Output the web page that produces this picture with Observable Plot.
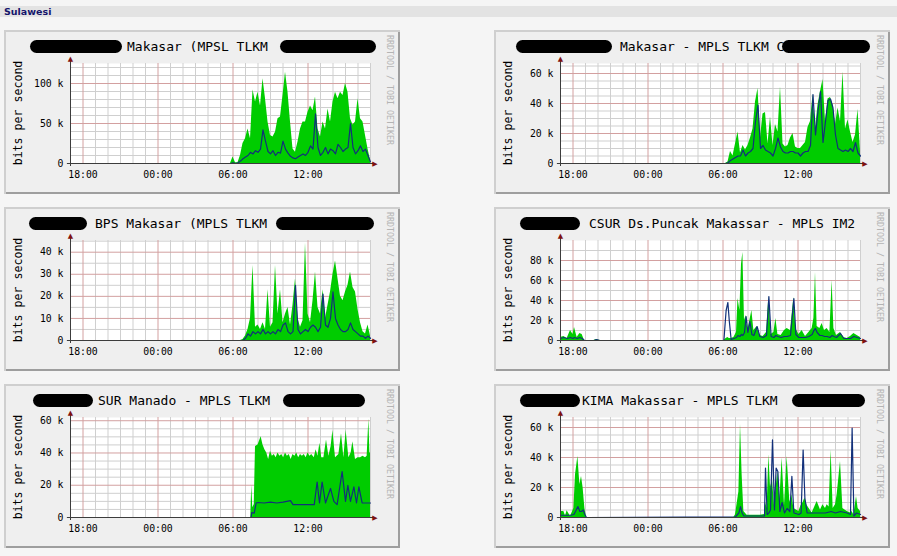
<!DOCTYPE html>
<html><head><meta charset="utf-8">
<script src="https://cdn.jsdelivr.net/npm/d3@7"></script>
<script src="https://cdn.jsdelivr.net/npm/@observablehq/plot@0.6"></script>
<style>
html,body{margin:0;padding:0;background:#f5f5f5;}
body{width:897px;height:556px;position:relative;overflow:hidden;font-family:'DejaVu Sans',sans-serif;}
.bar{position:absolute;left:0;top:6px;width:897px;height:11px;background:#e3e3e3;}
.bar span{position:absolute;left:4px;top:0;font:bold 9.5px/11px 'DejaVu Sans',sans-serif;color:#15156b;}
.panel{position:absolute;width:396px;height:164px;background:#efefef;box-shadow:inset 2px 2px 0 #cfcfcf, inset -2px -2px 0 #9e9e9e;}
.panel svg{position:absolute;left:0;top:0;}
.title{position:absolute;top:9px;font:13px/15px 'DejaVu Sans Mono',monospace;white-space:pre;color:#000;}
.pill{position:absolute;top:10px;height:13px;border-radius:7px;background:#000;}
.ylab{position:absolute;left:14px;top:83px;transform:translate(-50%,-50%) rotate(-90deg);font:11.6px 'DejaVu Sans Mono',monospace;white-space:nowrap;color:#000;}
.wm{position:absolute;left:381px;top:5px;writing-mode:vertical-rl;font:8.3px 'DejaVu Sans Mono',monospace;color:#b4b4b4;white-space:nowrap;}
</style></head><body>
<div class="bar"><span>Sulawesi</span></div>
<script>
// ---- time axis (hours since 17:00 of the previous day) ----
const xTickHours = [1, 7, 13, 19];
const xTickLabels = ["18:00", "00:00", "06:00", "12:00"];

// ---- shared sampling hours for the first three graphs ----
const sharedHours = [0,12.8,13,13.2,13.4,13.6,13.8,14,14.2,14.4,14.6,14.8,15,15.2,15.4,15.6,15.8,16,16.2,16.4,16.6,16.8,17,17.2,17.4,17.6,17.8,18,18.2,18.4,18.6,18.8,19,19.2,19.4,19.6,19.8,20,20.2,20.4,20.6,20.8,21,21.2,21.4,21.6,21.8,22,22.2,22.4,22.6,22.8,23,23.2,23.4,23.6,23.8,24];

// Graph 1: Makasar (MPSL TLKM   (k bits/s)
const makasarIn  = [0,0,8,1,1,10,25,31,43,31,92,77,89,72,106,81,52,35,33,39,56,58,85,114,89,52,18,14,27,43,52,52,64,72,66,83,43,33,52,43,68,52,77,89,81,89,85,100,89,56,48,52,81,56,52,35,18,4];
const makasarOut = [0,0,1,0,1,3,6,8,10,14,12,16,14,18,42,28,15,12,16,10,14,13,28,18,13,9,7,6,8,10,12,10,14,22,18,62,20,10,14,20,12,18,16,12,24,20,15,18,20,50,20,12,16,22,15,18,10,2];

// Graph 2: Makasar - MPLS TLKM
const makasar2In  = [0,0,0,0,1,8,5,13,21,7,12,9,12,17,23,41,50,17,33,34,13,31,12,26,21,51,13,11,12,17,20,11,10,10,12,14,24,28,46,23,39,48,56,28,43,44,39,26,37,28,61,23,29,21,14,19,36,8];
const makasar2Out = [0,0,0,0,0.5,2,3,4,5,5,9,5,7,8,10,28,39,10,12,9,8,7,5,10,17,11,8,7,7,8,8,7,7,5,7,8,8,12,46,19,35,48,14,28,42,43,37,19,10,9,8,9,8,10,8,14,7,5];

// Graph 3: BPS Makasar (MPLS TLKM
const bpsIn  = [0,0,0,0,0,0,0.5,2,5,10,34,6,7,5,8,5,23,6,8,34,12,23,8,12,15,7,16,28,10,6,9,44,12,8,18,31,15,12,23,10,16,22,30,36,28,20,18,22,25,31,24,22,14,8,4,3,7,2];
const bpsOut = [0,0,0,0,0,0,0,1,3,2,4,3,4,3,5,3,4,3,4,3,5,4,7,8,4,3,4,25,5,3,4,5,4,6,7,6,4,6,21,7,6,10,22,10,7,5,4,4,5,8,5,4,3,2,2,1,2,1];

// Graph 4: CSUR Ds.Puncak Makassar - MPLS IM2
const csurHours = [0,0.27,0.53,0.8,1.0,1.12,1.33,1.55,1.73,1.92,2.67,2.88,3.15,13.07,13.25,13.39,13.5,13.65,13.87,14.08,14.2,14.35,14.48,14.59,14.72,14.85,14.99,15.15,15.31,15.47,15.73,15.95,16.21,16.48,16.67,16.85,17.07,17.23,17.39,17.65,17.92,18.13,18.4,18.67,18.83,19.07,19.33,19.6,19.87,20.13,20.27,20.4,20.53,20.75,20.93,21.12,21.33,21.55,21.73,21.87,22.08,22.4,22.67,22.93,23.2,23.47,23.73,24];
const csurIn  = [3,4,2,10,6,13,3,7,6,0,0,1,0,0,2,3,2,2,3,8,42,30,76,88,20,25,10,20,30,10,14,5,4,8,44,6,8,22,6,5,10,12,10,43,12,6,10,4,8,12,22,68,14,12,17,10,12,8,60,12,5,8,3,2,4,7,5,3];
const csurOut = [2,3,2,3,2,3,2,3,2,0,0,1,0,0,30,38,20,1,2,3,5,4,6,5,8,24,8,19,6,5,14,4,3,5,44,4,3,5,4,3,4,4,5,42,6,3,3,3,4,6,10,12,8,5,5,4,4,3,5,4,3,7,2,2,2,4,3,2];

// Graph 5: SUR Manado - MPLS TLKM   ([hour, k bits/s])
const manadoIn = [[0,0],[14.42,0],[14.5,20],[14.58,6],[14.7,8],[14.8,44],[15.0,45],[15.1,47],[15.25,50],[15.4,45],[15.55,42],[15.7,40],[15.85,36],[16.0,41],[16.15,38],[16.3,39],[16.45,37],[16.6,40],[16.75,38],[16.9,39],[17.05,37],[17.2,40],[17.35,38],[17.5,39],[17.65,36],[17.8,39],[17.95,38],[18.1,40],[18.25,37],[18.4,39],[18.55,38],[18.7,39],[18.85,37],[19.0,40],[19.15,38],[19.3,39],[19.5,37],[19.65,42],[19.8,38],[19.95,46],[20.1,37],[20.27,37],[20.48,48],[20.67,38],[20.85,44],[20.99,54],[21.2,37],[21.47,39],[21.68,52],[21.87,37],[22.05,54],[22.27,37],[22.45,40],[22.59,47],[22.8,36],[23.0,37],[23.2,37],[23.4,38],[23.6,37],[23.73,38],[23.87,61],[23.95,40],[24,40]];
const manadoOut = [[0,0],[14.45,0],[14.5,3],[14.7,2.7],[14.85,9],[15.0,9.3],[15.5,9],[16.0,9.5],[16.5,9],[17.0,9.5],[17.6,10.5],[17.8,8],[18.5,8],[19.3,8],[19.5,8],[19.73,22],[19.92,9],[20.13,22],[20.4,9],[20.8,18],[21.07,10],[21.33,8],[21.73,28.5],[22.0,10],[22.19,20],[22.4,10],[22.67,19],[22.88,9],[23.07,19],[23.33,9],[23.87,9],[24,9]];

// Graph 6: KIMA Makassar - MPLS TLKM
const kimaIn = [[0,4],[0.27,4],[0.4,1],[0.53,4.5],[0.8,0.7],[1.07,6],[1.2,28.5],[1.39,40.7],[1.55,22],[1.68,27.4],[1.81,19.6],[1.95,6],[2.08,0],[13.87,0],[14.0,1.8],[14.27,17],[14.4,62],[14.53,28.5],[14.67,4],[14.93,1.5],[16.0,1.5],[16.32,2],[16.4,10],[16.53,6],[16.67,41.8],[16.8,20],[16.96,25],[17.12,8],[17.25,20],[17.39,30.7],[17.55,12],[17.73,39.6],[17.92,8],[18.13,40.7],[18.35,10],[18.51,15],[18.67,6],[19.07,4],[19.25,8],[19.41,10],[19.55,13],[19.73,8],[20.13,3],[20.53,10.7],[20.8,5],[20.99,8.5],[21.2,6],[21.33,8.5],[21.49,7],[21.65,45],[21.81,6],[22.0,8.5],[22.13,15],[22.4,37.3],[22.59,6],[22.93,4],[23.2,3],[23.33,4],[23.47,1.5],[23.68,14],[23.81,6],[24,4]];
const kimaOut = [[0,1.5],[0.8,1.5],[1.07,2],[1.2,4],[1.39,7.3],[1.55,4],[1.68,4],[1.81,5],[1.95,2],[2.08,0],[14.0,0.5],[14.27,3],[14.4,7.3],[14.53,3],[14.67,1],[16.32,1],[16.4,33],[16.53,2],[16.67,3],[16.8,5],[16.96,51.8],[17.12,5],[17.25,33],[17.39,30.7],[17.55,4],[17.73,10],[17.92,3],[18.13,6],[18.35,4],[18.51,27.4],[18.67,3],[19.07,2],[19.25,3],[19.41,45],[19.55,13],[19.73,3],[20.13,3],[20.53,3],[21.2,3],[21.65,4],[22.0,3],[22.4,4],[22.93,3],[23.2,2],[23.33,59.6],[23.47,1],[23.68,3],[24,2]];

// ---- builders ----
const zip = (hours, vals) => hours.map((h, i) => ({h, v: vals[i]}));
const fromPairs = pairs => pairs.map(([h, v]) => ({h, v}));

const panels = [
  {left: 4, top: 30, title: "Makasar (MPSL TLKM", titleLeft: 123, pills: [[26, 92], [276, 96]],
   yMax: 125, yTicks: [0, 50, 100], minor: 10, inbound: zip(sharedHours, makasarIn), outbound: zip(sharedHours, makasarOut)},
  {left: 494, top: 30, title: "Makasar - MPLS TLKM C", titleLeft: 126, pills: [[22, 96], [288, 88]],
   yMax: 66.67, yTicks: [0, 20, 40, 60], minor: 5, inbound: zip(sharedHours, makasar2In), outbound: zip(sharedHours, makasar2Out)},
  {left: 4, top: 207, title: "BPS Makasar (MPLS TLKM", titleLeft: 91, pills: [[25, 58], [272, 98]],
   yMax: 45.3, yTicks: [0, 10, 20, 30, 40], minor: 5, inbound: zip(sharedHours, bpsIn), outbound: zip(sharedHours, bpsOut)},
  {left: 494, top: 207, title: "CSUR Ds.Puncak Makassar - MPLS IM2", titleLeft: 95, pills: [[26, 60]],
   yMax: 100, yTicks: [0, 20, 40, 60, 80], minor: 10, inbound: zip(csurHours, csurIn), outbound: zip(csurHours, csurOut)},
  {left: 4, top: 384, title: "SUR Manado - MPLS TLKM", titleLeft: 94, pills: [[29, 60], [279, 82]],
   yMax: 62, yTicks: [0, 20, 40, 60], minor: 5, inbound: fromPairs(manadoIn), outbound: fromPairs(manadoOut)},
  {left: 494, top: 384, title: "KIMA Makassar - MPLS TLKM", titleLeft: 88, pills: [[26, 60], [298, 73]],
   yMax: 66.67, yTicks: [0, 20, 40, 60], minor: 5, inbound: fromPairs(kimaIn), outbound: fromPairs(kimaOut)}
];

const minorX = d3.range(0, 25).filter(h => !xTickHours.includes(h));
const axisColor = "#3c3c3c", arrowColor = "#7f1010";

for (const p of panels) {
  const div = document.createElement("div");
  div.className = "panel";
  div.style.left = p.left + "px";
  div.style.top = p.top + "px";
  document.body.appendChild(div);

  const minorY = d3.range(p.minor, p.yMax, p.minor).filter(v => !p.yTicks.includes(v));
  const chart = Plot.plot({
    width: 396, height: 164,
    marginLeft: 66, marginRight: 30, marginTop: 33, marginBottom: 31,
    x: {domain: [0, 24], axis: null, label: null},
    y: {domain: [0, p.yMax], axis: null, label: null},
    style: {background: "transparent", fontFamily: "'DejaVu Sans Mono', monospace", fontSize: "9.8px", color: "#000", overflow: "visible"},
    marks: [
      Plot.frame({fill: "#ffffff", stroke: "none"}),
      Plot.ruleX(minorX, {stroke: "#cfcfcf"}),
      Plot.ruleY(minorY, {stroke: "#cfcfcf"}),
      Plot.ruleX(xTickHours, {stroke: "#d3a0a0"}),
      Plot.ruleY(p.yTicks.filter(v => v > 0), {stroke: "#d3a0a0"}),
      Plot.areaY(p.inbound, {x: "h", y: "v", fill: "#00CC00"}),
      Plot.lineY(p.outbound, {x: "h", y: "v", stroke: "#12307a", strokeWidth: 1.2}),
      Plot.ruleY([0], {x1: -0.25, x2: 24.3, stroke: axisColor}),
      Plot.ruleX([0], {y1: -p.yMax * 0.03, y2: p.yMax * 1.03, stroke: axisColor}),
      Plot.text(["▶"], {x: 24.36, y: 0, text: d => d, fill: arrowColor, fontSize: 7, fontFamily: "DejaVu Sans", textAnchor: "middle", lineAnchor: "middle"}),
      Plot.text(["▲"], {x: 0, y: p.yMax * 1.045, text: d => d, fill: arrowColor, fontSize: 7, fontFamily: "DejaVu Sans", textAnchor: "middle", lineAnchor: "middle"}),
      Plot.axisY(p.yTicks, {tickSize: 0, tickPadding: 7, label: null, tickFormat: v => v === 0 ? "0" : v + " k", fontSize: 9.8}),
      Plot.axisX(xTickHours, {tickSize: 0, tickPadding: 7.5, label: null, tickFormat: d => xTickLabels[xTickHours.indexOf(d)], fontSize: 9.8})
    ]
  });
  div.appendChild(chart);

  for (const [l, w] of p.pills) {
    const pill = document.createElement("div");
    pill.className = "pill";
    pill.style.left = l + "px";
    pill.style.width = w + "px";
    div.appendChild(pill);
  }
  const t = document.createElement("div");
  t.className = "title";
  t.style.left = p.titleLeft + "px";
  t.textContent = p.title;
  div.insertBefore(t, div.querySelector(".pill"));

  const yl = document.createElement("div");
  yl.className = "ylab";
  yl.textContent = "bits per second";
  div.appendChild(yl);

  const wm = document.createElement("div");
  wm.className = "wm";
  wm.textContent = "RRDTOOL / TOBI OETIKER";
  div.appendChild(wm);
}
</script>
</body></html>
